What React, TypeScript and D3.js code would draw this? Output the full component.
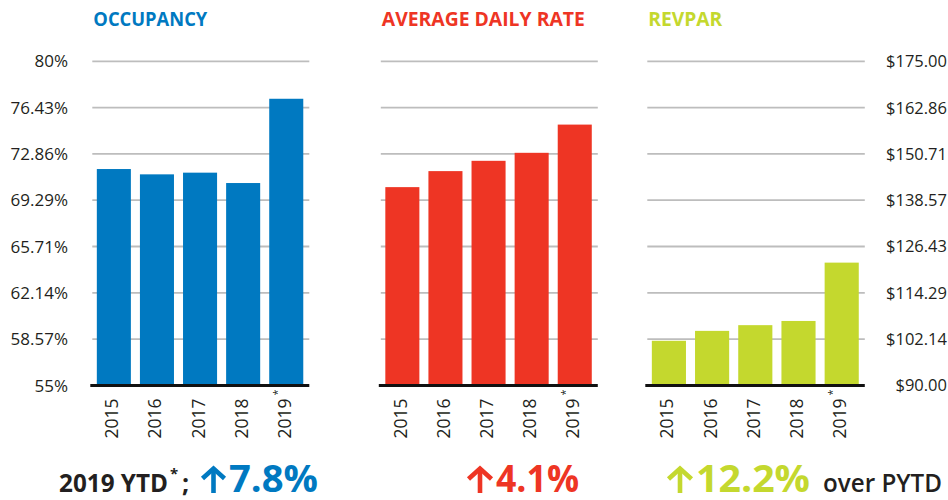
import React from "react";
import * as d3 from "d3";

const years = ["2015", "2016", "2017", "2018", "2019"];
const occupancy = [71.69, 71.28, 71.41, 70.61, 77.11];
const adr = [142.0, 146.2, 148.9, 151.0, 158.4];
const revpar = [101.7, 104.3, 105.8, 106.9, 122.2];

const pctTickValues = [55, 58.5714, 62.1429, 65.7143, 69.2857, 72.8571, 76.4286, 80];
const pctTickLabels = ["55%", "58.57%", "62.14%", "65.71%", "69.29%", "72.86%", "76.43%", "80%"];
const usdTickValues = [90, 102.1429, 114.2857, 126.4286, 138.5714, 150.7143, 162.8571, 175];
const usdTickLabels = ["$90.00", "$102.14", "$114.29", "$126.43", "$138.57", "$150.71", "$162.86", "$175.00"];

const titles = ["OCCUPANCY", "AVERAGE DAILY RATE", "REVPAR"];
const changes = ["7.8%", "4.1%", "12.2%"];

const BLUE = "#0079c1";
const RED = "#ee3524";
const GREEN = "#c4d82e";
const DARK = "#231f20";
const GRID = "#bdbdbd";
const FONT = "'Open Sans', 'Noto Sans', sans-serif";

const W = 948;
const H = 500;
const yTop = 61.3;
const yBottom = 385.4;

const yPct = d3.scaleLinear().domain([55, 80]).range([yBottom, yTop]);
const yUsd = d3.scaleLinear().domain([90, 175]).range([yBottom, yTop]);

type Panel = {
  x0: number;
  x1: number;
  values: number[];
  y: d3.ScaleLinear<number, number>;
  color: string;
  title: string;
  titleLen: number;
};

const panels: Panel[] = [
  { x0: 92.3, x1: 307.8, values: occupancy, y: yPct, color: BLUE, title: titles[0], titleLen: 114 },
  { x0: 380.8, x1: 596.3, values: adr, y: yUsd, color: RED, title: titles[1], titleLen: 203 },
  { x0: 647.3, x1: 863.3, values: revpar, y: yUsd, color: GREEN, title: titles[2], titleLen: 74 },
];

function PanelView({ p }: { p: Panel }) {
  const x = d3.scaleBand<string>().domain(years).range([p.x0, p.x1]).paddingInner(0.21).paddingOuter(0.105);
  const ticks = p.y === yPct ? pctTickValues : usdTickValues;
  return (
    <g>
      <text
        x={p.x0 + 1}
        y={26}
        fill={p.color}
        fontFamily={FONT}
        fontWeight={700}
        fontSize={19}
        textLength={p.titleLen}
        lengthAdjust="spacingAndGlyphs"
      >
        {p.title}
      </text>
      {ticks.slice(1).map((t, i) => (
        <line key={i} x1={p.x0} x2={p.x1 + 1.5} y1={p.y(t)} y2={p.y(t)} stroke={GRID} strokeWidth={1.8} />
      ))}
      {p.values.map((v, i) => (
        <rect
          key={years[i]}
          x={x(years[i])}
          width={x.bandwidth()}
          y={p.y(v)}
          height={yBottom - p.y(v)}
          fill={p.color}
        />
      ))}
      <line x1={p.x0 - 2} x2={p.x1 + 1.5} y1={yBottom} y2={yBottom} stroke="#111" strokeWidth={3} />
      {years.map((yr) => {
        const cx = (x(yr) as number) + x.bandwidth() / 2;
        return (
          <text
            key={yr}
            transform={`translate(${cx + 4.5},438.5) rotate(-90)`}
            textAnchor="start"
            fill={DARK}
            fontFamily={FONT}
            fontSize={17.5}
            textLength={40}
            lengthAdjust="spacingAndGlyphs"
          >
            {yr}
          </text>
        );
      })}
      {(() => {
        const last = years[years.length - 1];
        const cx = (x(last) as number) + x.bandwidth() / 2;
        return (
          <text
            transform={`translate(${cx - 5.5},392.5) rotate(-90)`}
            textAnchor="middle"
            fill={DARK}
            fontFamily={FONT}
            fontSize={11}
          >
            *
          </text>
        );
      })()}
    </g>
  );
}

// up-arrow symbol drawn as a small stroked glyph
function Arrow({ x, w, color }: { x: number; w: number; color: string }) {
  const top = 466;
  const bottom = 493;
  const mid = x + w / 2;
  const head = w / 2;
  return (
    <g stroke={color} strokeWidth={4.6} fill="none">
      <path d={`M${mid},${bottom} V${top + 3}`} strokeLinecap="butt" />
      <path d={`M${mid - head + 1.5},${top + head} L${mid},${top + 2.5} L${mid + head - 1.5},${top + head}`} strokeLinejoin="miter" strokeLinecap="butt" />
    </g>
  );
}

export default function App() {
  return (
    <svg
      width={W}
      height={H}
      viewBox={`0 0 ${W} ${H}`}
      style={{ position: "absolute", left: 0, top: 0, background: "#fff" }}
    >
      <rect width={W} height={H} fill="#fff" />
      {pctTickValues.map((t, i) => (
        <text
          key={"l" + i}
          x={68}
          y={yPct(t)}
          dy="0.36em"
          textAnchor="end"
          fill={DARK}
          fontFamily={FONT}
          fontSize={17}
        >
          {pctTickLabels[i]}
        </text>
      ))}
      {usdTickValues.map((t, i) => (
        <text
          key={"r" + i}
          x={947}
          y={yUsd(t)}
          dy="0.36em"
          textAnchor="end"
          fill={DARK}
          fontFamily={FONT}
          fontSize={16.5}
        >
          {usdTickLabels[i]}
        </text>
      ))}
      {panels.map((p, i) => (
        <PanelView key={i} p={p} />
      ))}

      {/* bottom summary */}
      <text x={59} y={492} fill={DARK} fontFamily={FONT} fontWeight={700} fontSize={25} textLength={109} lengthAdjust="spacingAndGlyphs">
        2019 YTD
      </text>
      <text x={170} y={479} fill={DARK} fontFamily={FONT} fontWeight={700} fontSize={15}>
        *
      </text>
      <text x={182} y={492} fill={DARK} fontFamily={FONT} fontWeight={700} fontSize={25}>
        ;
      </text>

      <Arrow x={201} w={25} color={BLUE} />
      <text x={229} y={492} fill={BLUE} fontFamily={FONT} fontWeight={700} fontSize={37} textLength={89} lengthAdjust="spacingAndGlyphs">
        {changes[0]}
      </text>

      <Arrow x={467} w={26} color={RED} />
      <text x={496} y={492} fill={RED} fontFamily={FONT} fontWeight={700} fontSize={37} textLength={83} lengthAdjust="spacingAndGlyphs">
        {changes[1]}
      </text>

      <Arrow x={667} w={26} color={GREEN} />
      <text x={696} y={492} fill={GREEN} fontFamily={FONT} fontWeight={700} fontSize={37} textLength={114} lengthAdjust="spacingAndGlyphs">
        {changes[2]}
      </text>
      <text x={823} y={492} fill={DARK} fontFamily={FONT} fontWeight={600} fontSize={25} textLength={119} lengthAdjust="spacingAndGlyphs">
        over PYTD
      </text>
    </svg>
  );
}
